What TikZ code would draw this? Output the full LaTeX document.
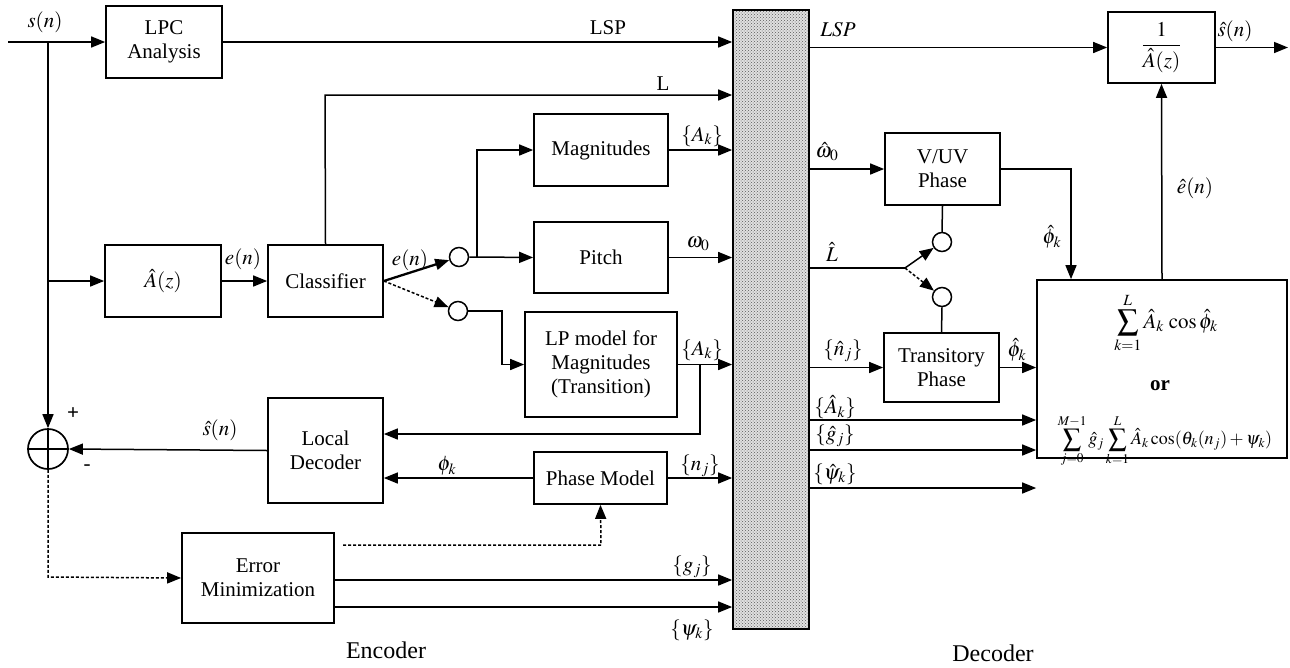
\documentclass[tikz,border=0pt]{standalone}
\usepackage{mathptmx}
\usepackage{fontspec}
\setmainfont{Liberation Serif}
\usetikzlibrary{arrows.meta,patterns}
\tikzset{
  every node/.append style={font=\fontsize{21}{24}\selectfont},
  blk/.style={draw, line width=1.7pt, align=center, inner sep=0pt},
  sw/.style={draw, circle, line width=1.5pt, minimum size=19pt, inner sep=0pt},
  con/.style={line width=1.5pt},
  arr/.style={con, -{Triangle[length=14pt,width=11pt]}},
  dsh/.style={dash pattern=on 3pt off 2pt},
  lbl/.style={inner sep=0pt},
  captxt/.style={inner sep=0pt, font=\fontsize{24}{27}\selectfont}
}
\begin{document}
\begin{tikzpicture}[x=1pt,y=-1pt]
\useasboundingbox (0,0) rectangle (1290,667);
% bar
\node[draw, line width=1.7pt, preaction={fill=black!12}, pattern=crosshatch dots, pattern color=black!65, minimum width=76pt, minimum height=619pt, inner sep=0pt] (bar) at (771,319.5) {};
% encoder blocks
\node[blk, minimum width=116pt, minimum height=72pt] (lpc) at (164,42) {LPC\\Analysis};
\node[blk, minimum width=116pt, minimum height=72pt] (ahat) at (163,281) {$\hat{A}(z)$};
\node[blk, minimum width=115pt, minimum height=72pt] (cls) at (325.5,281) {Classifier};
\node[blk, minimum width=134pt, minimum height=72pt] (mag) at (601,150) {Magnitudes};
\node[blk, minimum width=134pt, minimum height=71pt] (pitch) at (601,257.5) {Pitch};
\node[blk, minimum width=152pt, minimum height=105pt] (lpm) at (601,364.5) {LP model for\\Magnitudes\\(Transition)};
\node[blk, minimum width=115pt, minimum height=105pt] (ldec) at (325.5,450.5) {Local\\Decoder};
\node[blk, minimum width=133pt, minimum height=52pt] (pm) at (600.5,478) {Phase Model};
\node[blk, minimum width=152pt, minimum height=90pt] (err) at (258,578) {Error\\Minimization};
\node[sw] (c1) at (459,257) {};
\node[sw] (c2) at (458,311) {};
\node[draw, circle, line width=1.7pt, minimum size=40pt, inner sep=0pt] (sum) at (48,449) {};
\draw[line width=1.5pt] (sum.north) -- (sum.south) (sum.west) -- (sum.east);
% decoder blocks
\node[blk, minimum width=107pt, minimum height=71pt] (syn) at (1161.5,47.5) {$\displaystyle\frac{1}{\hat{A}(z)}$};
\node[blk, minimum width=115pt, minimum height=72pt] (vuv) at (942.5,169) {V/UV\\Phase};
\node[blk, minimum width=115pt, minimum height=69pt] (trans) at (941.5,367.5) {Transitory\\Phase};
\node[blk, minimum width=250pt, minimum height=178pt] (big) at (1162,369) {};
\node[sw] (c3) at (942,242) {};
\node[sw] (c4) at (942,297) {};
\node[lbl] (f1) at (1166,323) {$\displaystyle\sum_{k=1}^{L}\hat{A}_k\,\cos\hat{\phi}_k$};
\node[lbl] (or) at (1160,386) {\textbf{or}};
\node[lbl, font=\fontsize{18}{20}\selectfont] (f2) at (1165,441) {$\displaystyle\sum_{j=0}^{M-1}\hat{g}_j\sum_{k=1}^{L}\hat{A}_k\cos(\theta_k(n_j)+\psi_k)$};
% coordinates
\coordinate (in) at (8,42);
\coordinate (b0) at (48,42);
\coordinate (lt) at (325,95);
\coordinate (j1) at (477,257);
\coordinate (j4) at (502,311);
\coordinate (j2) at (700,364.5);
\coordinate (j3) at (700,434);
\coordinate (d0) at (343,545);
\coordinate (d1) at (601,545);
\coordinate (d2) at (48,577);
\coordinate (ly) at (0,268);
\coordinate (lk) at (905,268);
\coordinate (ph) at (1071,169);
\coordinate (ya) at (0,420);
\coordinate (yg) at (0,450);
\coordinate (yp) at (0,488);
\coordinate (yg2) at (0,580);
\coordinate (yp2) at (0,607);
\coordinate (out) at (1288,47.5);
% encoder connectors
\draw[arr] (in) -- (lpc.west);
\draw[arr] (b0) -- (sum.north);
\draw[arr] (b0 |- ahat.west) -- (ahat.west);
\draw[arr] (lpc.east) -- (bar.west |- lpc.east);
\draw[arr] (ahat.east) -- (cls.west);
\draw[arr] (cls.north) -- (lt) -- (bar.west |- lt);
\draw[arr, line width=2.3pt] (cls.east) -- (c1);
\draw[arr, dsh] (cls.east) -- (c2);
\draw[arr] (c1.east) -- (j1) -- (pitch.west);
\draw[arr] (j1) |- (mag.west);
\draw[arr] (c2.east) -- (j4) |- (lpm.west);
\draw[arr] (mag.east) -- (bar.west |- mag.east);
\draw[arr] (pitch.east) -- (bar.west |- pitch.east);
\draw[arr] (lpm.east) -- (bar.west |- lpm.east);
\draw[arr] (j2) -- (j3) -- (ldec.east |- j3);
\draw[arr] (pm.east) -- (bar.west |- pm.east);
\draw[arr] (pm.west) -- (ldec.east |- pm.west);
\draw[arr, dsh] (d0) -- (d1) -- (pm.south);
\draw[arr] (err.east |- yg2) -- (bar.west |- yg2);
\draw[arr] (err.east |- yp2) -- (bar.west |- yp2);
\draw[arr] (ldec.west) -- (sum.east);
\draw[arr, dsh] (sum.south) -- (d2) -- (err.west);
% decoder connectors
\draw[arr] (bar.east |- syn.west) -- (syn.west);
\draw[arr] (syn.east) -- (out);
\draw[arr] (bar.east |- vuv.west) -- (vuv.west);
\draw[con] (bar.east |- ly) -- (lk);
\draw[arr] (lk) -- (c3);
\draw[arr, dsh] (lk) -- (c4);
\draw[con] (vuv.south) -- (c3.north);
\draw[con] (c4.south) -- (trans.north);
\draw[arr] (bar.east |- trans.west) -- (trans.west);
\draw[arr] (trans.east) -- (big.west |- trans.east);
\draw[arr] (vuv.east) -- (ph) -- (ph |- big.north);
\draw[arr] (bar.east |- ya) -- (big.west |- ya);
\draw[arr] (bar.east |- yg) -- (big.west |- yg);
\draw[arr] (bar.east |- yp) -- (big.west |- yp);
\draw[arr] (big.north) -- (syn.south);
% labels
\node[lbl] (l1) at (45,22) {$s(n)$};
\node[lbl] (l2) at (608,28) {LSP};
\node[lbl] (l3) at (663,84) {L};
\node[lbl] (l4) at (243,259) {$e(n)$};
\node[lbl] (l5) at (410,260) {$e(n)$};
\node[lbl] (l6) at (702,136) {$\{A_k\}$};
\node[lbl] (l7) at (698,244) {$\omega_0$};
\node[lbl] (l8) at (702,350) {$\{A_k\}$};
\node[lbl] (l9) at (700,466) {$\{n_j\}$};
\node[lbl] (l10) at (447,466) {$\phi_k$};
\node[lbl] (l11) at (220,430) {$\hat{s}(n)$};
\node[lbl] (l12) at (73,414) {\textbf{+}};
\node[lbl] (l13) at (87,468) {-};
\node[lbl] (l14) at (692,567) {$\{g_j\}$};
\node[lbl] (l15) at (692,630) {$\{\psi_k\}$};
\node[lbl] (l16) at (838,30) {$LSP$};
\node[lbl] (l17) at (827,152) {$\hat{\omega}_0$};
\node[lbl] (l18) at (832,252) {$\hat{L}$};
\node[lbl] (l19) at (843,351) {$\{\hat{n}_j\}$};
\node[lbl] (l20) at (1017,350) {$\hat{\phi}_k$};
\node[lbl] (l21) at (1052,237) {$\hat{\phi}_k$};
\node[lbl] (l22) at (835,407) {$\{\hat{A}_k\}$};
\node[lbl] (l23) at (835,436) {$\{\hat{g}_j\}$};
\node[lbl] (l24) at (835,474) {$\{\hat{\psi}_k\}$};
\node[lbl] (l25) at (1195,188) {$\hat{e}(n)$};
\node[lbl] (l26) at (1235,31) {$\hat{s}(n)$};
\node[captxt] (enc) at (386,650) {Encoder};
\node[captxt] (dec) at (993,653) {Decoder};
\end{tikzpicture}
\end{document}
